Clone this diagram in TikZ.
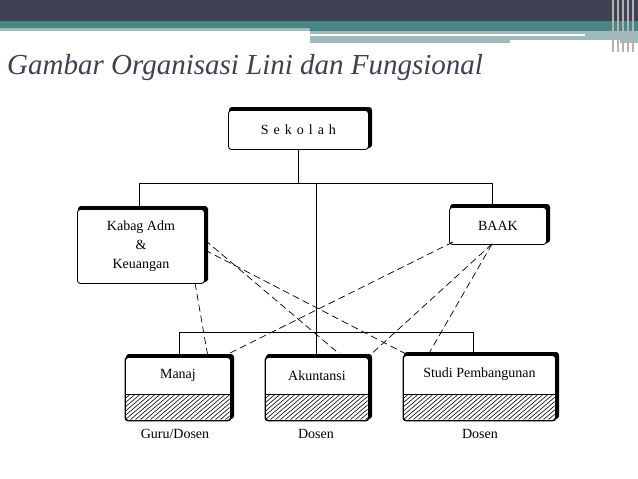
\documentclass[tikz,border=0pt]{standalone}
\usepackage{fontspec}
\setmainfont{Liberation Serif}
\usetikzlibrary{calc}
\definecolor{barDark}{HTML}{3F4152}
\definecolor{barTeal}{HTML}{4A8585}
\definecolor{barLight}{HTML}{9DBABD}
\tikzset{
  orgbox/.style={draw=black, line width=0.9pt, fill=white, rounded corners=3pt, align=center, inner sep=0pt},
  dashln/.style={dashed, dash pattern=on 7pt off 4pt, line width=0.7pt},
  solidln/.style={line width=0.9pt},
  lbl/.style={font=\fontsize{14}{17}\selectfont}
}
\newcommand{\shadowbox}[5]{% name, x1,y1,x2,y2
  \fill[black, rounded corners=3pt] (#2+1,#3-3) rectangle (#4+4,#5-1);
  \node[orgbox, minimum width=#4-#2, minimum height=#5-#3, anchor=north west] (#1) at (#2,#3) {};
}
\newcommand{\hatchit}[4]{% x1,y1,x2,y2
  \begin{scope}
  \clip (#1,#2) rectangle (#3,#4);
  \foreach \k in {0,5,...,200} \draw[line width=0.6pt] (#1+\k-30,#4) -- (#1+\k,#2);
  \end{scope}
}
\begin{document}
\begin{tikzpicture}[x=1pt,y=-1pt]
\useasboundingbox (0,0) rectangle (638,479);
\fill[white] (0,0) rectangle (638,479);
% header
\fill[barDark] (0,0) rectangle (638,21);
\fill[barTeal] (0,21) rectangle (638,31);
\fill[barLight] (0,28) rectangle (310,31);
\fill[barLight] (310,31) rectangle (638,43);
\fill[white] (310,34) rectangle (585,36);
\fill[white] (510,40) rectangle (620,43);
\foreach \xx in {612,617,622,627,632} \fill[gray!60] (\xx,0) rectangle (\xx+1.5,52);
\node[anchor=base west, font=\fontsize{29}{32}\selectfont\itshape, text=barDark, inner sep=0pt] (title) at (7,74) {Gambar Organisasi Lini dan Fungsional};
% boxes
\shadowbox{sek}{228}{110}{368}{149}
\node[lbl] (sekt) at (sek.center) {S\hspace{5pt}e\hspace{5pt}k\hspace{5pt}o\hspace{5pt}l\hspace{5pt}a\hspace{5pt}h};
\shadowbox{kab}{77}{209}{204}{283}
\node[lbl, align=center, font=\fontsize{14}{19}\selectfont] (kabt) at (kab.center) {Kabag Adm\\\&\\Keuangan};
\shadowbox{baak}{449}{207}{546}{244}
\node[lbl] (baakt) at (baak.center) {BAAK};
\shadowbox{man}{125}{357}{230}{420}
\shadowbox{aku}{265}{357}{368}{420}
\shadowbox{stu}{403}{355}{555}{420}
\hatchit{125.5}{394}{229.5}{419.5}
\hatchit{265.5}{394}{367.5}{419.5}
\hatchit{403.5}{394}{554.5}{419.5}
\foreach \b/\t in {man/Manaj, aku/Akuntansi, stu/Studi Pembangunan}{
  \draw[orgbox, fill=none] (\b.north west) rectangle (\b.south east);
  \draw[line width=0.9pt] (\b.west |- 0,394) -- (\b.east |- 0,394);
  \node[lbl] (\b t) at ($(\b.north)!0.5!(\b.north |- 0,394)$) {\t};
}
% labels
\node[lbl] (l1) at (175,434) {Guru/Dosen};
\node[lbl] (l2) at (316,434) {Dosen};
\node[lbl] (l3) at (480,434) {Dosen};
% solid lines
\coordinate (j1) at (298,183);
\coordinate (jm) at (316,183);
\draw[solidln] (sek.south -| j1) -- (j1);
\draw[solidln] (139,183) -- (492,183);
\draw[solidln] (139,183) -- (kab.north -| 139,0);
\draw[solidln] (492,183) -- (baak.north -| 492,0);
\draw[solidln] (jm) -- (aku.north -| jm);
\draw[solidln] (179,332) -- (473,332);
\draw[solidln] (179,332) -- (man.north -| 179,0);
\draw[solidln] (473,332) -- (stu.north -| 473,0);
% dashed
\draw[dashln] (kab.east |- 0,240) -- (343,357);
\draw[dashln] (kab.east |- 0,250) -- (408,355);
\draw[dashln] (195,283) -- (208,357);
\draw[dashln] (453,242) -- (222,357);
\draw[dashln] (492,244) -- (368,357);
\draw[dashln] (492,244) -- (428,355);
\end{tikzpicture}
\end{document}
